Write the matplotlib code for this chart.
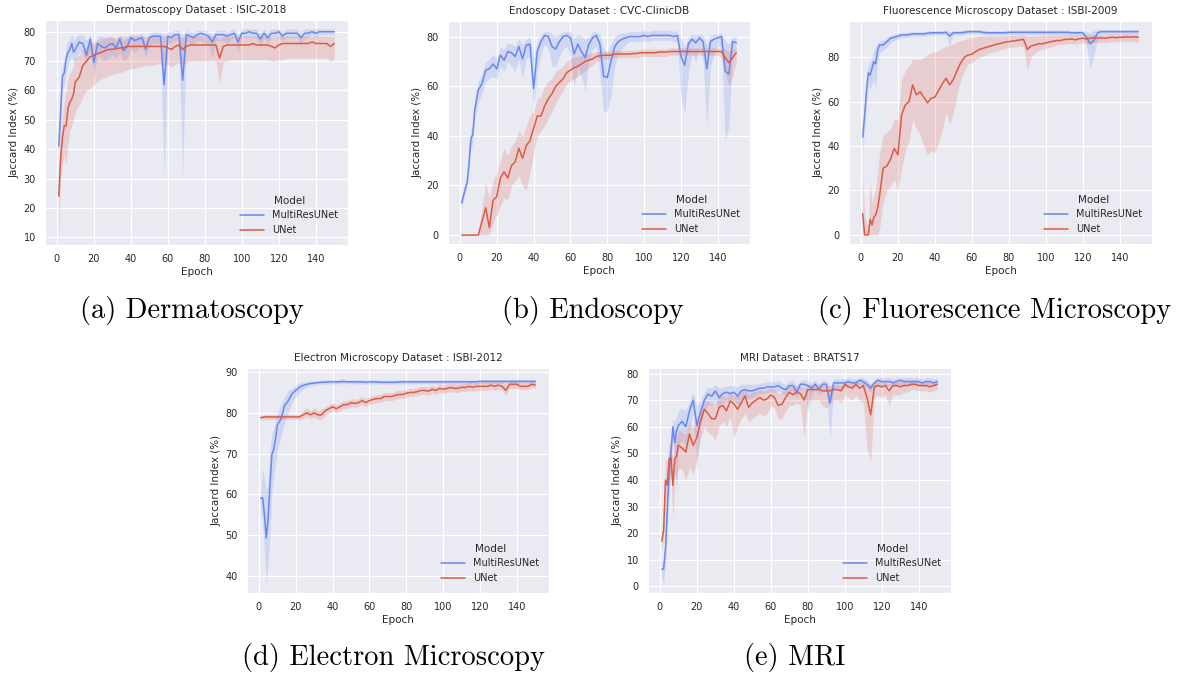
import matplotlib
matplotlib.use("Agg")
import matplotlib.pyplot as plt
import seaborn as sns

# epochs sampled from the curves: every epoch up to 10, then every 2nd
EPOCHS = list(range(1, 11)) + list(range(12, 151, 2))

# ---- (a) Dermatoscopy : ISIC-2018 ----
A_MULTI = [41, 53, 65, 66, 71, 73, 74, 76, 73, 74,
           76.5, 76, 72, 77.5, 69.5, 76, 75, 74.5, 75.5, 76,
           74.5, 77.5, 73.5, 75, 78, 77, 77.5, 78, 74, 78,
           78.5, 78.5, 78.5, 62, 78.5, 78, 79, 79, 63.5, 79,
           78.5, 78, 79, 79.5, 79, 78.5, 76.5, 79, 79, 79,
           78.5, 79, 79.5, 76.5, 79.5, 79.5, 80, 79.5, 79.5, 77.5,
           79.5, 78, 79.5, 79.5, 80, 78.5, 79.5, 79.5, 79.5, 79.5,
           78, 79.5, 79.5, 80, 79.5, 80, 80, 80, 80, 80]
A_MULTI_LO = [37, 47, 60, 62, 66, 69, 70, 72, 69, 70,
              73, 73, 69, 73, 65, 72, 71, 70, 71, 72,
              71, 73, 70, 71, 74, 73, 74, 75, 71, 75,
              76, 76, 76, 30, 76, 76, 77, 77, 31, 77,
              76, 76, 77, 77, 76, 76, 71, 77, 77, 77,
              76, 77, 78, 73, 78, 78, 78, 78, 78, 75,
              78, 76, 78, 78, 78, 77, 78, 78, 78, 78,
              76, 78, 78, 79, 78, 79, 79, 79, 79, 79]
A_MULTI_HI = [45, 58, 69, 70, 75, 77, 77, 79, 77, 78,
              79, 79, 77, 79, 75, 78.5, 78.5, 78, 78.5, 78.5,
              77, 79, 77, 78, 79.5, 79, 79, 79.5, 77, 79.5,
              80, 80, 80, 79, 80, 80, 80.5, 80.5, 79, 80.5,
              80, 80, 80.5, 80.5, 80.5, 80, 79, 80.5, 80.5, 80.5,
              80, 80.5, 81, 79, 81, 81, 81, 81, 81, 79.5,
              81, 80, 81, 81, 81, 80, 81, 81, 81, 81,
              80, 81, 81, 81, 81, 81, 81, 81, 81, 81]
A_UNET = [24, 37, 44, 48, 48, 54, 56, 57, 59, 63,
          64.5, 68.5, 70, 71.5, 72, 72.5, 73, 73.5, 74, 74,
          74.2, 74.5, 74.5, 75, 75, 75, 75, 75, 75, 75,
          75, 75, 75, 75, 74.5, 74, 75, 75.5, 74, 75,
          75.5, 75.5, 75.5, 75.5, 75.5, 75.5, 75.5, 75.5, 71, 75,
          75.5, 75.5, 75.5, 75.5, 75.5, 75.5, 75.5, 76, 75.5, 75.5,
          75.5, 75.5, 75, 74.5, 75.5, 76, 76, 76, 76, 76,
          76, 76, 76, 76.5, 76, 76, 76, 76, 75, 76]
A_UNET_LO = [10, 30, 35, 38, 35, 42, 46, 48, 50, 53,
             55, 58, 60, 61, 62, 63, 64, 64.5, 65, 65.5,
             66, 66, 66.5, 67, 67.5, 67.5, 68, 68, 68.5, 68.5,
             68.5, 69, 69, 69, 69, 68, 69, 69.5, 68.5, 69.5,
             70, 70, 70, 70, 70, 70, 70, 70, 62, 70,
             70, 70.5, 70.5, 70.5, 70.5, 70.5, 70.5, 70.5, 70.5, 70.5,
             70.5, 70.5, 70, 70, 70.5, 70.5, 71, 71, 71, 71,
             71, 71, 71, 71, 71, 71, 71, 71, 70, 70.5]
A_UNET_HI = [35, 45, 52, 57, 60, 64, 66, 67, 68, 71,
             72, 74, 75, 76, 76.5, 77, 77.5, 78, 78, 78,
             78, 78.5, 78.5, 78.5, 78.5, 78.5, 78.5, 78.5, 78.5, 78.5,
             78.5, 78.5, 78.5, 78.5, 78.5, 78, 78.5, 78.5, 78, 78.5,
             78.5, 78.5, 78.5, 78.5, 78.5, 78.5, 78.5, 78.5, 77.5, 78.5,
             78.5, 78.5, 78.5, 78.5, 78.5, 78.5, 78.5, 78.5, 78.5, 78.5,
             78.5, 78.5, 78, 78, 78.5, 78.5, 78.5, 78.5, 78.5, 78.5,
             78.5, 78.5, 78.5, 78.5, 78.5, 78.5, 78.5, 78.5, 78.5, 78.5]

# ---- (b) Endoscopy : CVC-ClinicDB ----
B_MULTI = [13, 16, 19, 21.5, 29.5, 39, 40.5, 50, 54.5, 58.5,
           61, 66.5, 67, 69, 67, 72.5, 70.5, 74, 73.5, 72,
           76, 71, 76.5, 77, 59, 74, 78, 80.5, 80, 76,
           75, 78, 80, 80.5, 79.5, 73, 77, 74, 71.5, 77,
           79.5, 80.5, 77, 64, 63.5, 70, 76, 78, 79, 79.5,
           80, 80, 80, 80, 80.5, 80, 80.5, 80.5, 80.5, 80.5,
           80.5, 80.5, 80, 80.5, 72, 68.5, 77, 79, 77.5, 79.5,
           78, 67, 78, 79, 79.5, 80, 66, 65, 78, 77.5]
B_MULTI_LO = [11, 14, 17, 19.5, 26, 35, 37, 46, 50, 54,
              57, 62, 63, 64, 63, 68, 66, 70, 68, 66,
              71, 63, 71, 72, 50, 66, 73, 77, 75, 68,
              68, 72, 75, 76, 72, 60, 68, 64, 58, 70,
              75, 76, 65, 50, 50, 56, 68, 73, 75, 77,
              78, 78, 78, 78, 78.5, 78, 78.5, 78.5, 78.5, 78.5,
              78.5, 78.5, 78, 78, 55, 49, 65, 73, 70, 76,
              70, 44, 68, 73, 76, 76, 38, 44, 73, 75]
B_MULTI_HI = [15, 18, 21, 24, 33, 43, 44, 54, 59, 62,
              65, 70, 71, 73, 71, 76, 75, 77.5, 77, 76,
              79, 77, 79, 80, 72, 78, 81, 82, 82, 81,
              80, 81, 82, 82, 82, 79, 81, 80, 79, 80,
              82, 82, 81, 75, 74, 77, 80, 81, 81.5, 81.5,
              82, 82, 82, 82, 82.5, 82, 82.5, 82.5, 82.5, 82.5,
              82.5, 82.5, 82, 82.5, 79, 76, 80, 81, 80.5, 81,
              80.5, 77, 80.5, 81, 81, 81.5, 78, 77, 80, 80]
B_UNET = [0, 0, 0, 0, 0, 0, 0, 0, 0, 0,
          5.5, 11, 3, 14, 15.5, 23, 25.5, 23, 28, 29.5,
          35, 31, 36, 38, 43, 48, 48, 52, 55, 57,
          60, 61.5, 63, 65.5, 66.5, 67.5, 68, 69, 70, 70.5,
          71, 72, 72.3, 72.5, 72.5, 72.5, 73, 73, 73, 73,
          73, 73.2, 73.2, 73.5, 73.5, 73.5, 73.5, 73.5, 73.8, 73.8,
          73.8, 74, 74, 74, 74, 74, 74, 74, 74, 74,
          74, 74, 74, 74, 74, 74, 71.5, 69.5, 71.5, 73.5]
B_UNET_LO = [0, 0, 0, 0, 0, 0, 0, 0, 0, 0,
             0, 0, 0, 5, 8, 12, 15, 14, 20, 22,
             24, 20, 18, 25, 33, 40, 42, 44, 47, 50,
             53, 56, 58, 61, 62, 63, 64, 65, 66.5, 67.5,
             68.5, 70, 70.5, 71, 71, 71, 71.5, 71.5, 71.5, 71.5,
             71.5, 71.5, 71.5, 72, 72, 72, 72, 72, 72, 72,
             72, 72.5, 72.5, 72.5, 72.5, 72.5, 72.5, 72.5, 72.5, 72.5,
             72.5, 72.5, 72.5, 72.5, 72.5, 72, 66, 60, 64, 70]
B_UNET_HI = [0, 0, 0, 0, 0, 0, 0, 0, 0, 0,
             11, 21, 15, 22, 25, 30, 35, 32, 36, 38,
             42, 40, 44, 48, 50, 55, 56, 60, 62, 63,
             66, 67, 68, 70, 71, 72, 72, 72.5, 73, 73,
             73.5, 74, 74, 74, 74, 74, 74.5, 74.5, 74.5, 74.5,
             74.5, 74.5, 74.5, 75, 75, 75, 75, 75, 75, 75,
             75, 75.5, 75.5, 75.5, 75.5, 75.5, 75.5, 75.5, 75.5, 75.5,
             75.5, 75.5, 75.5, 75.5, 75.5, 75.5, 75, 74, 75, 75.5]

# ---- (c) Fluorescence Microscopy : ISBI-2009 ----
C_MULTI = [44, 54, 64.5, 73, 72, 75, 78, 77, 83, 85.5,
           85.5, 87, 88.5, 89, 89.5, 90, 90, 90.2, 90.5, 90.5,
           90.5, 90.5, 90.8, 91, 91, 91, 91, 91.2, 89.5, 91,
           91, 91, 91.2, 91.5, 91.5, 91.5, 91.5, 91.2, 91, 91,
           91, 91, 91, 91, 91.2, 91.2, 91.2, 91.2, 91.2, 91.2,
           91.2, 91.2, 91.2, 91.2, 91.2, 91.2, 91.2, 91.2, 91.2, 91.2,
           91.2, 91, 91, 91, 91, 89, 86, 87.5, 91, 91.5,
           91.5, 91.5, 91.5, 91.5, 91.5, 91.5, 91.5, 91.5, 91.5, 91.5]
C_MULTI_LO = [37, 48, 58, 67, 66, 68, 70, 65, 78, 82,
              83, 84.5, 86.5, 87.5, 88, 89, 89, 89.3, 89.5, 89.5,
              89.5, 89.5, 89.8, 90, 90, 90, 90, 90.2, 85, 90,
              90, 90, 90.2, 90.5, 90.5, 90.5, 90.5, 90.2, 90, 90,
              90, 90, 90, 90, 90.2, 90.2, 90.2, 90.2, 90.2, 90.2,
              90.2, 90.2, 90.2, 90.2, 90.2, 90.2, 90.2, 90.2, 90.2, 90.2,
              90.2, 90, 90, 90, 89.5, 85, 75, 80, 89.5, 90.5,
              90.5, 90.5, 90.5, 90.5, 90.5, 90.5, 90.5, 90.5, 90.5, 90.5]
C_MULTI_HI = [47, 60, 70, 77, 78, 80, 83, 85, 86, 87.5,
              87.5, 89, 90, 90.5, 90.8, 91, 91, 91.2, 91.5, 91.5,
              91.5, 91.5, 91.8, 92, 92, 92, 92, 92.2, 91.5, 92,
              92, 92, 92.2, 92.5, 92.5, 92.5, 92.5, 92.2, 92, 92,
              92, 92, 92, 92, 92.2, 92.2, 92.2, 92.2, 92.2, 92.2,
              92.2, 92.2, 92.2, 92.2, 92.2, 92.2, 92.2, 92.2, 92.2, 92.2,
              92.2, 92, 92, 92, 92, 91.5, 91, 92, 92.5, 92.5,
              92.5, 92.5, 92.5, 92.5, 92.5, 92.5, 92.5, 92.5, 92.5, 92.5]
C_UNET = [9.5, 0, 0, 0, 7, 4.5, 8, 9, 12, 17,
          30, 31, 34, 39, 36, 54, 58.5, 60, 67.5, 63,
          64.5, 62, 59.5, 61.5, 62, 65, 68, 70.5, 67.5, 70,
          74, 77.5, 80, 81, 81.3, 82.5, 83.5, 84, 84.5, 85,
          85.5, 86, 86.3, 86.8, 87, 87.3, 87.5, 87.8, 88, 83.5,
          85, 85.5, 86, 86, 86.5, 86.8, 87.2, 87.5, 87.5, 88,
          88, 88.2, 87.8, 88.3, 88.5, 88.3, 88.5, 88.8, 88.5, 88.8,
          88.5, 88.8, 89, 88.8, 89, 89, 89.2, 89, 89.2, 89]
C_UNET_LO = [0, 0, 0, 0, 0, 0, 0, 0, 0, 2,
             15, 20, 22, 25, 20, 30, 38, 42, 52, 48,
             45, 40, 36, 38, 37, 42, 47, 55, 50, 55,
             63, 70, 74, 77, 77.5, 79, 80, 80.5, 81, 82,
             82.5, 83, 83.5, 84, 84.3, 84.5, 84.7, 85, 85, 74,
             80, 82, 83, 83.5, 84, 84.3, 85, 85.5, 85.5, 86,
             86, 86.2, 85.8, 86.3, 86.5, 86.3, 86.5, 86.8, 86.5, 86.8,
             86.5, 86.8, 87, 86.8, 87, 87, 87.2, 87, 87, 86.5]
C_UNET_HI = [27, 10, 5, 5, 25, 14, 18, 21, 28, 36,
             45, 46, 48, 52, 52, 70, 74, 76, 79, 79,
             79, 80, 81, 82, 82.5, 83, 84, 85, 85.5, 86,
             87, 87.5, 88, 88.5, 89, 89, 89.5, 89.5, 89.5, 89.5,
             89.5, 89.5, 89.5, 89.5, 89.8, 89.8, 89.8, 90, 90, 89.5,
             89.5, 89.5, 89.8, 89.8, 90, 90, 90, 90, 90, 90.2,
             90.2, 90.2, 90.2, 90.2, 90.2, 90.2, 90.2, 90.2, 90.2, 90.2,
             90.5, 90.5, 90.5, 90.5, 90.5, 90.5, 90.5, 90.5, 90.5, 90.5]

# ---- (d) Electron Microscopy : ISBI-2012 ----
D_MULTI = [59, 59.2, 55, 49.3, 54, 62, 69.6, 71, 73.5, 77,
           78.5, 81.8, 83, 84.7, 85.5, 86.3, 86.7, 87, 87.2, 87.3,
           87.4, 87.5, 87.5, 87.6, 87.6, 87.6, 87.6, 87.7, 87.6, 87.6,
           87.6, 87.6, 87.6, 87.5, 87.6, 87.6, 87.6, 87.5, 87.5, 87.5,
           87.5, 87.5, 87.6, 87.6, 87.6, 87.6, 87.6, 87.6, 87.6, 87.6,
           87.6, 87.6, 87.6, 87.6, 87.6, 87.6, 87.6, 87.6, 87.6, 87.6,
           87.6, 87.6, 87.6, 87.6, 87.7, 87.7, 87.7, 87.7, 87.7, 87.7,
           87.7, 87.7, 87.7, 87.7, 87.7, 87.7, 87.7, 87.7, 87.7, 87.7]
D_MULTI_LO = [56, 53, 46, 38, 43, 50, 60, 64, 67, 71,
              74, 78, 80, 82.5, 84, 85, 85.8, 86.3, 86.6, 86.8,
              86.9, 87, 87, 87.1, 87.1, 87.1, 87.1, 87.2, 87.1, 87.1,
              87.1, 87.1, 87.1, 87, 87.1, 87.1, 87.1, 87, 87, 87,
              87, 87, 87.1, 87.1, 87.1, 87.1, 87.1, 87.1, 87.1, 87.1,
              87.1, 87.1, 87.1, 87.1, 87.1, 87.1, 87.1, 87.1, 87.1, 87.1,
              87.1, 87.1, 87.1, 87.1, 87.2, 87.2, 87.2, 87.2, 87.2, 87.2,
              87.2, 87.2, 87.2, 87.2, 87.2, 87.2, 87.2, 87.2, 87.2, 87.2]
D_MULTI_HI = [61, 66.5, 64, 61, 63, 71, 75, 76, 78, 80,
              82, 84, 85.5, 86, 86.8, 87.3, 87.5, 87.7, 87.8, 87.9,
              88, 88, 88, 88.1, 88.1, 88.1, 88.3, 88.3, 88.1, 88.1,
              88.1, 88.1, 88.1, 88, 88.1, 88.1, 88.1, 88, 88, 88,
              88, 88, 88.1, 88.1, 88.1, 88.1, 88.1, 88.1, 88.1, 88.1,
              88.1, 88.1, 88.1, 88.1, 88.1, 88.1, 88.1, 88.1, 88.1, 88.1,
              88.1, 88.1, 88.1, 88.1, 88.2, 88.2, 88.2, 88.2, 88.2, 88.2,
              88.2, 88.2, 88.2, 88.2, 88.2, 88.2, 88.2, 88.2, 88.2, 88.2]
D_UNET = [78.8, 78.9, 79, 79, 79, 79, 79, 79, 79, 79,
          79, 79, 79, 79, 79, 79, 79.5, 80, 79.5, 80,
          79.5, 79.5, 80.5, 81, 81.5, 81, 81.5, 82, 82, 82.5,
          82.3, 82.5, 83, 82.5, 83, 83.3, 83.5, 83.5, 84, 84,
          84, 84.3, 84.5, 84.5, 84.8, 85, 85, 85.2, 85.5, 85.5,
          85.3, 85.8, 85.5, 86, 85.8, 86, 86.2, 86, 86, 86.3,
          86.2, 86.5, 86.3, 86.5, 86.5, 86.5, 86.5, 86.8, 86.5, 86.8,
          86.5, 85.5, 87, 87, 87, 86.5, 86.5, 86.5, 87, 86.8]
D_UNET_LO = [78.2, 78.3, 78.4, 78.4, 78.4, 78.4, 78.4, 78.4, 78.4, 78.4,
             78.4, 78.4, 78.4, 78.4, 78.4, 78.3, 78.6, 79, 78.5, 79,
             78.5, 78.3, 79.5, 80, 80.5, 80, 80.5, 81, 81, 81.5,
             81.3, 81.5, 82, 81.5, 82, 82.3, 82.5, 82.5, 83, 83,
             83, 83.3, 83.5, 83.5, 83.8, 84, 84, 84.2, 84.5, 84.5,
             84.3, 84.8, 84.5, 85, 84.8, 85, 85.2, 85, 85, 85.3,
             85.2, 85.5, 85.3, 85.5, 85.5, 85.5, 85.5, 85.8, 85.5, 85.8,
             85.5, 84.3, 86, 86, 86, 85.7, 85.7, 85.7, 86.2, 86]
D_UNET_HI = [79.4, 79.5, 79.6, 79.6, 79.6, 79.6, 79.6, 79.6, 79.6, 79.6,
             79.6, 79.6, 79.6, 79.6, 79.6, 79.7, 80.5, 81.3, 80.5, 81.3,
             80.5, 81, 81.5, 82, 82.5, 82, 82.5, 83, 83, 83.5,
             83.3, 83.5, 84, 83.5, 84, 84.3, 84.5, 84.5, 85, 85,
             85, 85.3, 85.5, 85.5, 85.8, 86, 86, 86.2, 86.5, 86.5,
             86.3, 86.8, 86.5, 87, 86.8, 87, 87.2, 87, 87, 87.3,
             87.2, 87.5, 87.3, 87.5, 87.5, 87.5, 87.5, 87.8, 87.5, 87.8,
             87.5, 87, 87.8, 87.8, 87.8, 87.3, 87.3, 87.3, 87.8, 87.6]

# ---- (e) MRI : BRATS17 ----
E_MULTI = [6.5, 6.5, 14, 29, 43, 50.5, 60, 54, 58.5, 60.5,
           62, 60, 66, 70, 60.5, 65.5, 70, 72.3, 71.5, 73.5,
           71, 72.5, 73, 72.5, 73, 71.5, 73.5, 74, 73.5, 73.5,
           74, 74.5, 74.5, 75, 75, 75, 75.5, 74.5, 74, 75.5,
           75.5, 73, 76, 76, 75.5, 74.5, 76, 74, 76, 76,
           69, 76.5, 76.5, 76.5, 76.5, 77, 76.5, 76.5, 77.5, 77,
           76, 74.5, 76.5, 77.5, 77, 77, 77, 76.5, 77, 77.5,
           77, 77, 77, 77, 77, 76.5, 77, 77, 76.5, 77]
E_MULTI_LO = [3, 1, 8, 22, 35, 43, 55, 45, 35, 53,
              55, 53, 60, 65, 44, 60, 66, 68, 68, 70,
              67, 69, 70, 69, 70, 68, 70, 71, 70.5, 71,
              72, 72.5, 72.5, 73, 73, 73, 73.5, 72.5, 72, 73.5,
              73.5, 70.5, 74, 74, 66, 72, 74, 72, 74, 74,
              55, 74.5, 74.5, 74.5, 74.5, 75.5, 75, 75, 76, 75.5,
              74.5, 73, 75, 76, 75.5, 75.5, 75.5, 75, 75.5, 76,
              75.5, 75.5, 75.5, 75.5, 75.5, 75, 75.5, 75.5, 75, 75.5]
E_MULTI_HI = [9, 10, 20, 36, 50, 57, 63, 62, 64, 66,
              67, 66, 70, 73, 68, 70, 73, 75, 74.5, 76,
              74.5, 75, 75.5, 75.5, 75.5, 75, 76, 76, 76, 76,
              76, 76.5, 76.5, 77, 77, 77, 77.5, 76.5, 76, 77.5,
              77.5, 75.5, 77.5, 77.5, 77.5, 76.5, 77.5, 76, 77.5, 77.5,
              75, 78, 78, 78, 78, 78.5, 78, 78, 78.5, 78.5,
              77.5, 76, 78, 78.5, 78.5, 78.5, 78.5, 78, 78.5, 78.5,
              78.5, 78.5, 78.5, 78.5, 78.5, 78, 78.5, 78.5, 78, 78.5]
E_UNET = [17, 21, 40, 38, 48, 48.5, 38, 48, 49, 53,
          52, 50.5, 57.3, 53, 56, 62.2, 66.6, 65, 63, 63,
          67.3, 68, 66, 69.7, 68.6, 66.6, 69, 71.6, 67.3, 69,
          70, 71, 70, 70.5, 72, 71, 68, 68.5, 71, 73,
          72, 73, 72.5, 70, 74, 74, 74, 74, 73.5, 73.5,
          73.5, 74, 74, 73.5, 76, 75, 74.5, 76, 74.5, 75.5,
          71, 64.5, 75, 75.5, 75, 75.5, 73.5, 75.5, 75.5, 75,
          75.5, 75.5, 76, 76, 75.5, 75.5, 75.5, 75, 75.5, 76]
E_UNET_LO = [14, 17, 30, 32, 40, 42, 25, 40, 42, 44,
             44, 40, 45, 42, 48, 56, 60, 58, 57, 55,
             60, 62, 60, 64, 56, 60, 63, 65, 62, 63,
             64, 65, 64, 65, 68, 67, 63, 63, 66, 68,
             68, 69, 68, 56, 70, 70, 70, 70, 68, 67,
             69, 70, 70, 69, 72, 71, 70, 72, 70, 69,
             52, 47, 71, 72, 71, 72, 68, 72, 72, 72,
             73, 73, 74, 74, 73.5, 73.5, 73.5, 73, 73.5, 74]
E_UNET_HI = [20, 25, 48, 47, 55, 54, 47, 55, 56, 59,
             58, 57, 62, 60, 63, 67, 70, 69.5, 68.5, 69,
             71.5, 72, 71, 73, 72, 71.5, 73, 74, 72, 73,
             73.5, 74, 73.5, 74, 75, 74, 72.5, 73, 74.5, 75.5,
             75, 75.5, 75, 74, 76, 76, 76, 76, 75.5, 75.5,
             75.5, 76, 76, 75.5, 77.5, 77, 76.5, 77.5, 76.5, 77,
             76, 76, 77, 77, 77, 77, 76, 77, 77, 77,
             77, 77, 77.5, 77.5, 77, 77, 77, 77, 77, 77.5]

BLUE = "#6788ee"
RED = "#dd5a45"
W, H = 1182, 677


def px_axes(fig, x0, y0, x1, y1):
    # pixel box (top-left origin) -> figure fraction axes
    return fig.add_axes([x0 / W, 1 - y1 / H, (x1 - x0) / W, (y1 - y0) / H])


def draw_panel(ax, title, multi, multi_lo, multi_hi, unet, unet_lo, unet_hi, ylim, yticks):
    ax.fill_between(EPOCHS, multi_lo, multi_hi, color=BLUE, alpha=0.2, lw=0)
    ax.fill_between(EPOCHS, unet_lo, unet_hi, color=RED, alpha=0.2, lw=0)
    ax.plot(EPOCHS, multi, color=BLUE, lw=1.1, label="MultiResUNet")
    ax.plot(EPOCHS, unet, color=RED, lw=1.1, label="UNet")
    ax.set_xlim(-6.45, 157.45)
    ax.set_ylim(*ylim)
    ax.set_xticks(range(0, 141, 20))
    ax.set_yticks(yticks)
    ax.tick_params(labelsize=7, pad=3)
    ax.set_title(title, fontsize=7.5, pad=5)
    ax.set_xlabel("Epoch", fontsize=7.5, labelpad=2)
    ax.set_ylabel("Jaccard Index (%)", fontsize=7.5, labelpad=3)
    leg = ax.legend(title="Model", loc="lower right", fontsize=7, title_fontsize=7.5,
                    frameon=False, handlelength=2.5, borderaxespad=0.6)
    return leg


sns.set_style("darkgrid")
plt.rcParams["font.family"] = ["DejaVu Sans"]

fig = plt.figure(figsize=(W / 100, H / 100), dpi=100)

ax_a = px_axes(fig, 45, 20, 348, 245)
draw_panel(ax_a, "Dermatoscopy Dataset : ISIC-2018", A_MULTI, A_MULTI_LO, A_MULTI_HI,
           A_UNET, A_UNET_LO, A_UNET_HI, (7.4, 84), range(10, 81, 10))

ax_b = px_axes(fig, 448, 21, 750, 244)
draw_panel(ax_b, "Endoscopy Dataset : CVC-ClinicDB", B_MULTI, B_MULTI_LO, B_MULTI_HI,
           B_UNET, B_UNET_LO, B_UNET_HI, (-3.6, 86.3), range(0, 81, 20))

ax_c = px_axes(fig, 849, 21, 1152, 244)
draw_panel(ax_c, "Fluorescence Microscopy Dataset : ISBI-2009", C_MULTI, C_MULTI_LO, C_MULTI_HI,
           C_UNET, C_UNET_LO, C_UNET_HI, (-4.1, 96.3), range(0, 81, 20))

ax_d = px_axes(fig, 247, 368, 549, 593)
draw_panel(ax_d, "Electron Microscopy Dataset : ISBI-2012", D_MULTI, D_MULTI_LO, D_MULTI_HI,
           D_UNET, D_UNET_LO, D_UNET_HI, (35.8, 91), range(40, 91, 10))

ax_e = px_axes(fig, 648, 368, 951, 593)
draw_panel(ax_e, "MRI Dataset : BRATS17", E_MULTI, E_MULTI_LO, E_MULTI_HI,
           E_UNET, E_UNET_LO, E_UNET_HI, (-2.5, 82.1), range(0, 81, 10))

# sub-figure captions
captions = [("(a) Dermatoscopy", 192, 310), ("(b) Endoscopy", 593, 310),
            ("(c) Fluorescence Microscopy", 995, 310),
            ("(d) Electron Microscopy", 393, 658), ("(e) MRI", 795, 658)]
for txt, cx, cy in captions:
    fig.text(cx / W, 1 - cy / H, txt, ha="center", va="center",
             fontsize=20.5, family="cmr10", color="black")

fig.savefig("out.png", dpi=100, facecolor="white")
